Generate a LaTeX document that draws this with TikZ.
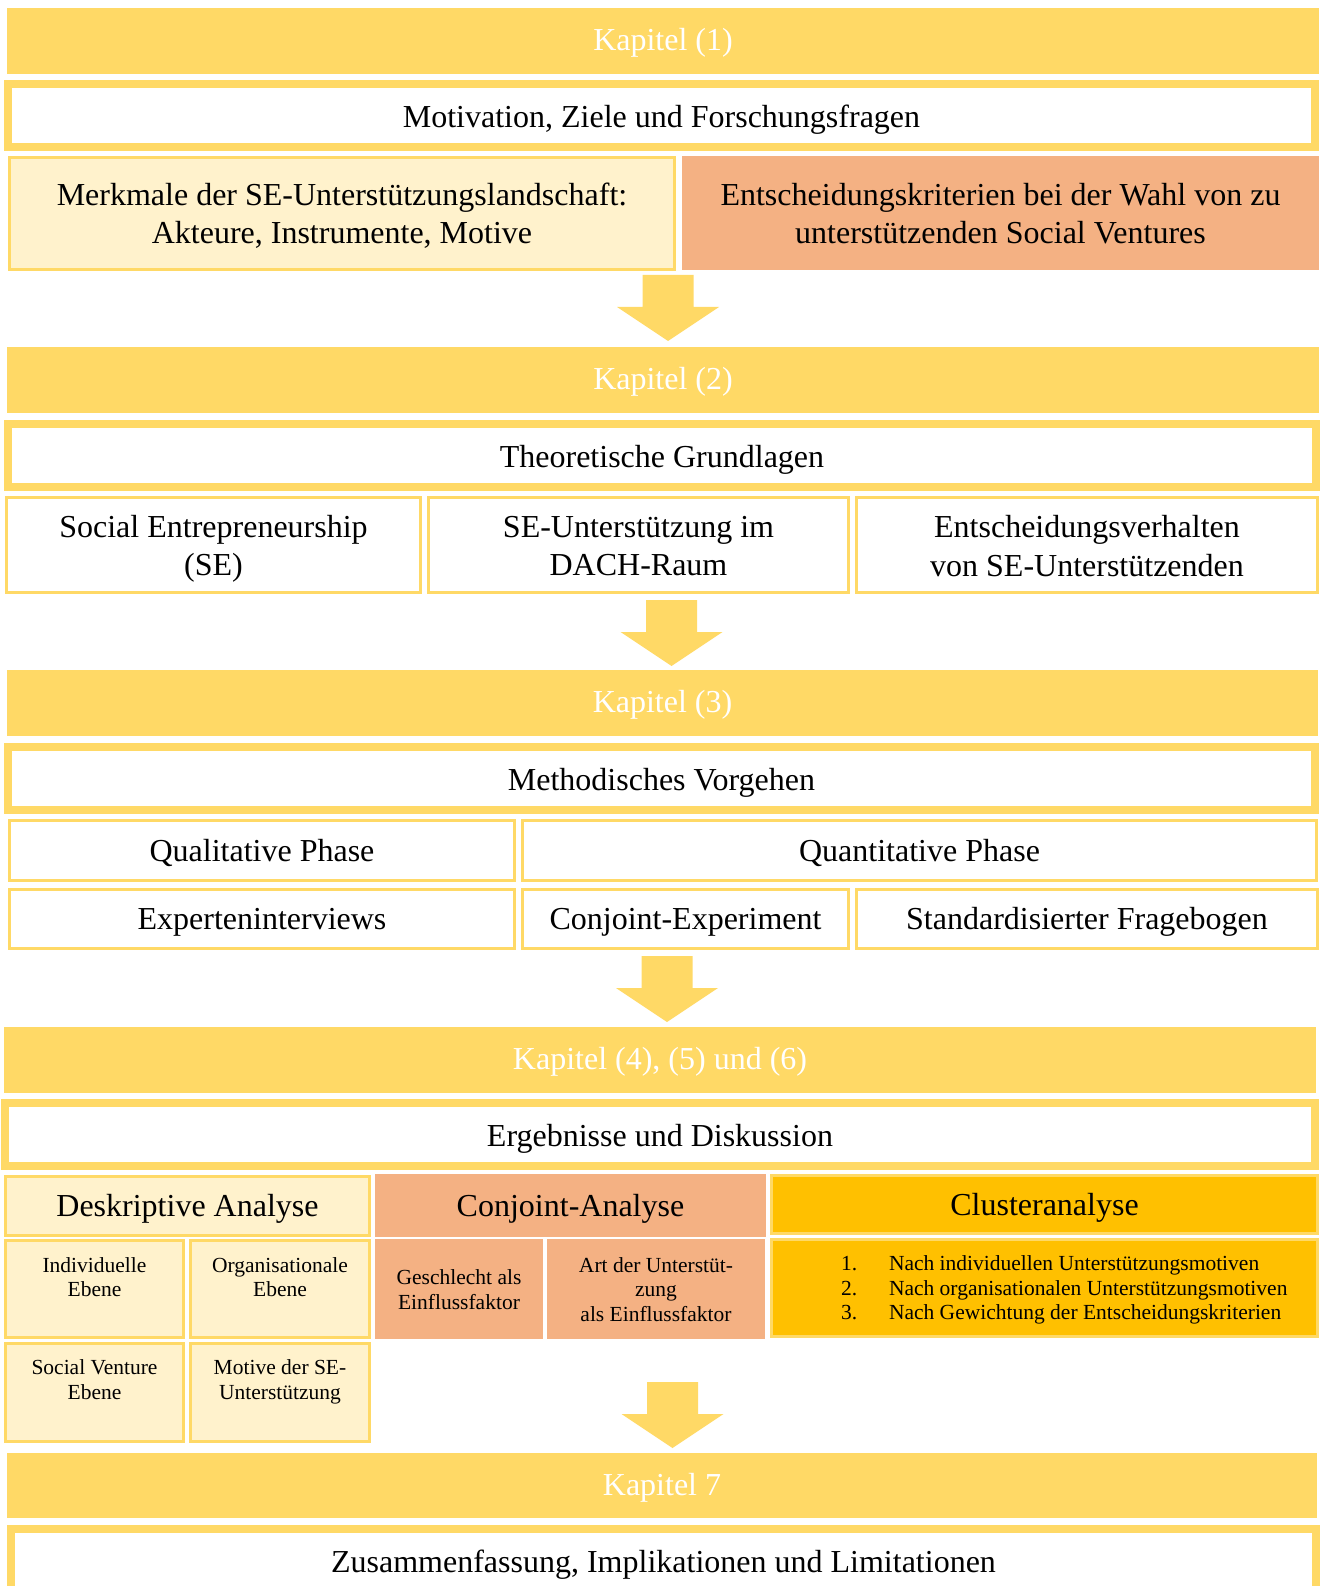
\documentclass[tikz,border=0pt]{standalone}
\usepackage{fontspec}
\setmainfont{Liberation Serif}
\definecolor{gold}{HTML}{FFD966}
\definecolor{lightyel}{HTML}{FFF2CC}
\definecolor{salm}{HTML}{F4B183}
\definecolor{orng}{HTML}{FFC000}
\newcommand\fontL{\fontsize{32}{38.4}\selectfont}
\newcommand\fontS{\fontsize{21.5}{24.6}\selectfont}
% box style, line width, name, x1, y1, x2, y2, text style, text
\newcommand\bx[9]{%
  \node[#1, line width=#2pt, minimum width={(#6-#4-#2)*1pt}, minimum height={(#7-#5-#2)*1pt}] (#3) at ({(#4+#6)/2},{(#5+#7)/2}) {};
  \node[#8] (#3t) at ([yshift=-4pt]#3.center) {#9};}
% centre x, top y
\newcommand\darrow[2]{\fill[gold] ({#1-25.5},{#2}) -- ({#1+25.5},{#2}) -- ({#1+25.5},{#2+32}) -- ({#1+51},{#2+32}) -- ({#1},{#2+66}) -- ({#1-51},{#2+32}) -- ({#1-25.5},{#2+32}) -- cycle;}
\begin{document}
\begin{tikzpicture}[x=1pt,y=-1pt,
  every node/.style={inner sep=0pt, outer sep=0pt, align=center},
  barbox/.style={fill=gold},
  framebox/.style={draw=gold, fill=white},
  whitebox/.style={draw=gold, fill=white},
  lightbox/.style={draw=gold, fill=lightyel},
  salbox/.style={fill=salm},
  orabox/.style={draw=gold, fill=orng},
  big/.style={font=\fontL},
  bigw/.style={font=\fontL, text=white, yshift=2pt},
  small/.style={font=\fontS}]
\useasboundingbox (0,0) rectangle (1320,1586);
\clip (0,0) rectangle (1320,1586);
% Kapitel 1
\bx{barbox}{0}{k1}{7}{8}{1319}{74}{bigw}{Kapitel (1)}
\bx{framebox}{8}{mot}{4}{80}{1319}{151}{big}{Motivation, Ziele und Forschungsfragen}
\bx{lightbox}{3}{merk}{8}{156}{676}{271}{big, yshift=2pt}{Merkmale der SE-Unterstützungslandschaft:\\Akteure, Instrumente, Motive}
\bx{salbox}{0}{ents}{682}{156}{1319}{270}{big, yshift=3.5pt}{Entscheidungskriterien bei der Wahl von zu\\unterstützenden Social Ventures}
\darrow{668}{275}
% Kapitel 2
\bx{barbox}{0}{k2}{7}{347}{1319}{413}{bigw}{Kapitel (2)}
\bx{framebox}{8}{theo}{4}{420}{1320}{491}{big}{Theoretische Grundlagen}
\bx{whitebox}{3}{soc}{5}{496}{422}{594}{big}{Social Entrepreneurship\\(SE)}
\bx{whitebox}{3}{seu}{427}{496}{850}{594}{big, yshift=3pt}{SE-Unterstützung im\\DACH-Raum}
\bx{whitebox}{3}{ev}{855}{496}{1319}{594}{big, yshift=3pt}{Entscheidungsverhalten\\von SE-Unterstützenden}
\darrow{671.5}{600}
% Kapitel 3
\bx{barbox}{0}{k3}{7}{670}{1318}{736}{bigw}{Kapitel (3)}
\bx{framebox}{8}{meth}{4}{743}{1319}{814}{big}{Methodisches Vorgehen}
\bx{whitebox}{3}{qual}{8}{819}{516}{882}{big, yshift=2pt}{Qualitative Phase}
\bx{whitebox}{3}{quant}{521}{819}{1318}{882}{big, yshift=2pt}{Quantitative Phase}
\bx{whitebox}{3}{expi}{8}{888}{516}{950}{big, yshift=1pt}{Experteninterviews}
\bx{whitebox}{3}{ce}{521}{888}{850}{950}{big, yshift=1pt}{Conjoint-Experiment}
\bx{whitebox}{3}{sf}{855}{888}{1319}{950}{big, yshift=1pt}{Standardisierter Fragebogen}
\darrow{667}{956}
% Kapitel 4-6
\bx{barbox}{0}{k4}{4}{1027}{1316}{1093}{bigw}{Kapitel (4), (5) und (6)}
\bx{framebox}{8}{erg}{1}{1099}{1319}{1170}{big}{Ergebnisse und Diskussion}
\bx{lightbox}{3}{desk}{4}{1175}{371}{1237}{big, yshift=1pt}{Deskriptive Analyse}
\bx{salbox}{0}{ca}{375}{1174}{766}{1237}{big, yshift=1pt}{Conjoint-Analyse}
\bx{orabox}{3}{cl}{770}{1174}{1319}{1235}{big, yshift=1pt}{Clusteranalyse}
\bx{lightbox}{3}{ind}{4}{1239}{185}{1339}{small}{}
\bx{lightbox}{3}{org}{189}{1239}{371}{1339}{small}{}
\bx{lightbox}{3}{sv}{4}{1342}{185}{1443}{small}{}
\bx{lightbox}{3}{mot2}{189}{1342}{371}{1443}{small}{}
\node[small] (indl) at (94.5,1277) {Individuelle\\Ebene};
\node[small] (orgl) at (280,1277) {Organisationale\\Ebene};
\node[small] (svl) at (94.5,1379.5) {Social Venture\\Ebene};
\node[small] (motl) at (280,1382) {Motive der SE-\\Unterstützung};
\node[salbox, minimum width=168pt, minimum height=100pt] (ges) at (459,1289) {};
\node[small] (gesl) at (459,1289.5) {Geschlecht als\\Einflussfaktor};
\node[salbox, minimum width=218pt, minimum height=100pt] (art) at (656,1289) {};
\node[small] (artl) at (656,1289.5) {Art der Unterstüt-\\zung\\als Einflussfaktor};
\bx{orabox}{3}{cll}{770}{1238}{1319}{1338}{small}{}
\node[small, anchor=west, align=left] (list) at (841,1290) {\makebox[48pt][l]{1.}Nach individuellen Unterstützungsmotiven\\
\makebox[48pt][l]{2.}Nach organisationalen Unterstützungsmotiven\\
\makebox[48pt][l]{3.}Nach Gewichtung der Entscheidungskriterien};
\darrow{672.5}{1382}
% Kapitel 7
\bx{barbox}{0}{k7}{7}{1453}{1317}{1518}{bigw}{Kapitel 7}
\node[framebox, line width=8pt, minimum width=1305pt, minimum height=80pt] (zus) at (663.5,1569) {};
\node[big] (zusl) at (663.5,1565) {Zusammenfassung, Implikationen und Limitationen};
\end{tikzpicture}
\end{document}
